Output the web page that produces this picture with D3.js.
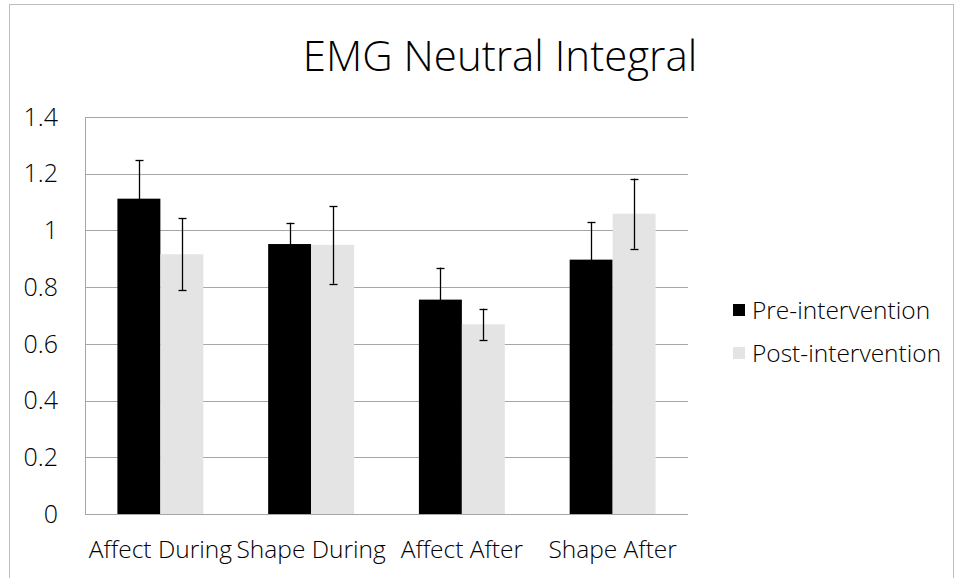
<!DOCTYPE html>
<html>
<head>
<meta charset="utf-8">
<script src="https://cdn.jsdelivr.net/npm/d3@7"></script>
<style>
  body { margin: 0; background: #fff; }
  text { font-family: "Open Sans", sans-serif; font-weight: 300; fill: #000; }
</style>
</head>
<body>
<div id="chart"></div>
<script>
var categories = ["Affect During", "Shape During", "Affect After", "Shape After"];
var seriesNames = ["Pre-intervention", "Post-intervention"];
var preValues = [1.112, 0.952, 0.756, 0.897];
var postValues = [0.916, 0.949, 0.669, 1.059];
var preErrors = [0.136, 0.075, 0.113, 0.133];
var postErrors = [0.127, 0.137, 0.055, 0.124];
var yTicks = [0, 0.2, 0.4, 0.6, 0.8, 1, 1.2, 1.4];
var colors = ["#000000", "#e4e4e4"];

var W = 958, H = 578;
var margin = {top: 117, right: 270, bottom: 64, left: 85},
    width = W - margin.left - margin.right,
    height = H - margin.top - margin.bottom;

var svg = d3.select("#chart").append("svg")
    .attr("width", W)
    .attr("height", H);

// outer chart border
svg.append("rect")
    .attr("x", 9.5).attr("y", 4.5)
    .attr("width", 944).attr("height", 600)
    .attr("fill", "none")
    .attr("stroke", "#bdbdbd");

svg.append("text")
    .attr("x", 500).attr("y", 71)
    .attr("text-anchor", "middle")
    .style("font-size", "42px")
    .text("EMG Neutral Integral");

var g = svg.append("g")
    .attr("transform", "translate(" + margin.left + "," + margin.top + ")");

var x0 = d3.scaleBand().domain(categories).range([0, width]).paddingInner(0.43).paddingOuter(0.215);
var x1 = d3.scaleBand().domain(seriesNames).range([0, x0.bandwidth()]);
var y = d3.scaleLinear().domain([0, 1.4]).range([height, 0]);

// gridlines
g.selectAll(".grid")
    .data(yTicks)
    .enter().append("line")
    .attr("x1", 0).attr("x2", width)
    .attr("y1", function(d) { return Math.round(y(d)) + 0.5; })
    .attr("y2", function(d) { return Math.round(y(d)) + 0.5; })
    .attr("stroke", "#a6a6a6");

g.append("line")
    .attr("x1", 0.5).attr("x2", 0.5)
    .attr("y1", 0).attr("y2", height)
    .attr("stroke", "#a6a6a6");

// y tick labels
g.selectAll(".ylab")
    .data(yTicks)
    .enter().append("text")
    .attr("x", -27)
    .attr("y", function(d) { return y(d); })
    .attr("dy", "0.35em")
    .attr("text-anchor", "end")
    .style("font-size", "25px")
    .text(function(d) { return d3.format("")(d); });

var rows = categories.map(function(c, i) {
    return [
        {cat: c, s: seriesNames[0], v: preValues[i], e: preErrors[i], col: colors[0]},
        {cat: c, s: seriesNames[1], v: postValues[i], e: postErrors[i], col: colors[1]}
    ];
});
var flat = [].concat.apply([], rows);

g.selectAll(".bar")
    .data(flat)
    .enter().append("rect")
    .attr("x", function(d) { return x0(d.cat) + x1(d.s); })
    .attr("y", function(d) { return y(d.v); })
    .attr("width", x1.bandwidth())
    .attr("height", function(d) { return height - y(d.v); })
    .attr("fill", function(d) { return d.col; });

// error bars
var eb = g.selectAll(".err")
    .data(flat)
    .enter().append("g")
    .attr("transform", function(d) {
        return "translate(" + Math.round(x0(d.cat) + x1(d.s) + x1.bandwidth() / 2) + ",0)";
    });
eb.append("line")
    .attr("x1", 0.5).attr("x2", 0.5)
    .attr("y1", function(d) { return y(d.v + d.e); })
    .attr("y2", function(d) { return y(d.v - d.e); })
    .attr("stroke", "#000").attr("stroke-width", 1.3);
eb.selectAll(".cap")
    .data(function(d) { return [d.v + d.e, d.v - d.e]; })
    .enter().append("line")
    .attr("x1", -3.5).attr("x2", 4.5)
    .attr("y1", function(v) { return Math.round(y(v)) + 0.5; })
    .attr("y2", function(v) { return Math.round(y(v)) + 0.5; })
    .attr("stroke", "#000").attr("stroke-width", 1.3);

// x labels
g.selectAll(".xlab")
    .data(categories)
    .enter().append("text")
    .attr("x", function(d) { return x0(d) + x0.bandwidth() / 2; })
    .attr("y", height + 44)
    .attr("text-anchor", "middle")
    .style("font-size", "24.5px")
    .text(function(d) { return d; });

// legend
var legend = svg.selectAll(".legend")
    .data(seriesNames)
    .enter().append("g")
    .attr("transform", function(d, i) { return "translate(733," + (304 + i * 43) + ")"; });
legend.append("rect")
    .attr("width", 12).attr("height", 12)
    .attr("fill", function(d, i) { return colors[i]; });
legend.append("text")
    .attr("x", 19).attr("y", 6)
    .attr("dy", "0.35em")
    .style("font-size", "24.5px")
    .text(function(d) { return d; });
</script>
</body>
</html>
